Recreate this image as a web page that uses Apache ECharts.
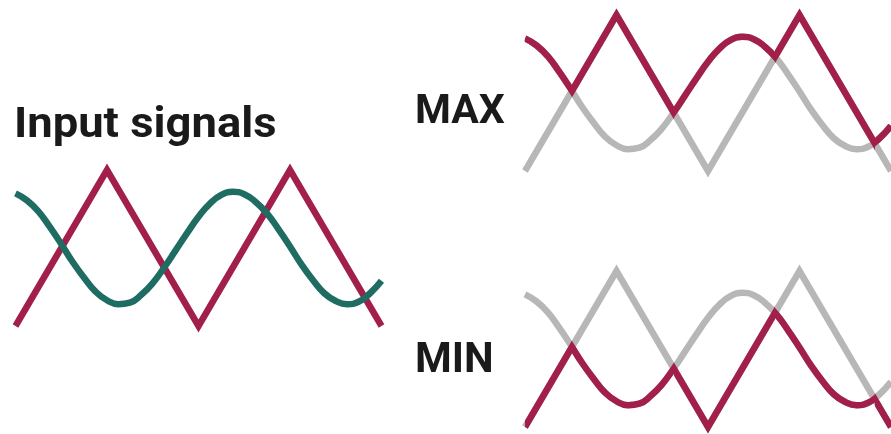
<!DOCTYPE html>
<html>
<head>
<meta charset="utf-8">
<script src="https://cdn.jsdelivr.net/npm/echarts@6/dist/echarts.min.js"></script>
<style>
html,body{margin:0;padding:0;background:#fff;}
#chart{width:891px;height:434px;}
</style>
</head>
<body>
<div id="chart"></div>
<script>
// Triangle input signal: vertices (x in half-periods, y normalised)
var triangleX = [0, 1, 2, 3, 4];
var triangleValues = [-1, 1, -1, 1, -1];

// Sine input signal at steps of 0.125
var sineX = [0, 0.125, 0.25, 0.375, 0.5, 0.625, 0.75, 0.875, 1,
             1.125, 1.25, 1.375, 1.5, 1.625, 1.75, 1.875, 2,
             2.125, 2.25, 2.375, 2.5, 2.625, 2.75, 2.875, 3,
             3.125, 3.25, 3.375, 3.5, 3.625, 3.75, 3.875, 4];
var sineValues = [0.70, 0.61, 0.47, 0.27, 0.05, -0.18, -0.38, -0.56, -0.67,
                  -0.72, -0.70, -0.60, -0.45, -0.25, -0.03, 0.19, 0.40,
                  0.57, 0.68, 0.72, 0.69, 0.59, 0.44, 0.24, 0.02,
                  -0.21, -0.41, -0.58, -0.68, -0.72, -0.69, -0.58, -0.42];

// Where the two signals cross (x positions)
var crossings = [0.51, 1.63, 2.73, 3.82];

// Panel labels
var panelTitles = ['Input signals', 'MAX', 'MIN'];

var RED = '#a11f49';
var TEAL = '#1e6c62';
var GRAY = '#b7b7b7';
var CLEAR = 'rgba(255,255,255,0)';
var LW = 6.5;

function pairs(xs, ys) { return xs.map(function (x, i) { return [x, ys[i]]; }); }
var triData = pairs(triangleX, triangleValues);
var sineData = pairs(sineX, sineValues);

var c = crossings;
// ranges where each signal is the larger one
var sineHigh = [{gte: 0, lte: c[0]}, {gte: c[1], lte: c[2]}, {gte: c[3], lte: 4}];
var triHigh = [{gte: c[0], lte: c[1]}, {gte: c[2], lte: c[3]}];

function colored(ranges) {
  return ranges.map(function (r) { return Object.assign({color: RED}, r); });
}

function line(data, grid, color, smooth) {
  var ls = {width: LW, cap: 'butt', join: 'miter'};
  if (color) ls.color = color;
  return {
    type: 'line', data: data, xAxisIndex: grid, yAxisIndex: grid,
    smooth: smooth ? 0.5 : false, symbol: 'none', clip: false, silent: true,
    animation: false,
    lineStyle: ls
  };
}

var grids = [
  {left: 15.5, top: 170, width: 366, height: 156},
  {left: 525, top: 15, width: 366, height: 156},
  {left: 525, top: 271, width: 366, height: 156}
];

var option = {
  animation: false,
  backgroundColor: '#ffffff',
  grid: grids,
  xAxis: grids.map(function (g, i) {
    return {type: 'value', gridIndex: i, min: 0, max: 4, show: false};
  }),
  yAxis: grids.map(function (g, i) {
    return {type: 'value', gridIndex: i, min: -1, max: 1, show: false};
  }),
  visualMap: [
    {type: 'piecewise', show: false, dimension: 0, seriesIndex: 4, pieces: colored(triHigh), outOfRange: {color: CLEAR}},
    {type: 'piecewise', show: false, dimension: 0, seriesIndex: 5, pieces: colored(sineHigh), outOfRange: {color: CLEAR}},
    {type: 'piecewise', show: false, dimension: 0, seriesIndex: 8, pieces: colored(sineHigh), outOfRange: {color: CLEAR}},
    {type: 'piecewise', show: false, dimension: 0, seriesIndex: 9, pieces: colored(triHigh), outOfRange: {color: CLEAR}}
  ],
  series: [
    line(triData, 0, RED, false),
    line(sineData, 0, TEAL, true),
    line(triData, 1, GRAY, false),
    line(sineData, 1, GRAY, true),
    line(triData, 1, null, false),
    line(sineData, 1, null, true),
    line(triData, 2, GRAY, false),
    line(sineData, 2, GRAY, true),
    line(triData, 2, null, false),
    line(sineData, 2, null, true)
  ],
  graphic: [
    {type: 'text', left: 14, top: 105, scaleX: 1.08, style: {text: panelTitles[0], font: 'bold 42px Roboto', fill: '#1a1a1a'}},
    {type: 'text', left: 415, top: 92, style: {text: panelTitles[1], font: 'bold 41px Roboto', fill: '#1a1a1a'}},
    {type: 'text', left: 415, top: 340, style: {text: panelTitles[2], font: 'bold 42px Roboto', fill: '#1a1a1a'}}
  ]
};

var chart = echarts.init(document.getElementById('chart'), null, {renderer: 'canvas'});
chart.setOption(option);
</script>
</body>
</html>
